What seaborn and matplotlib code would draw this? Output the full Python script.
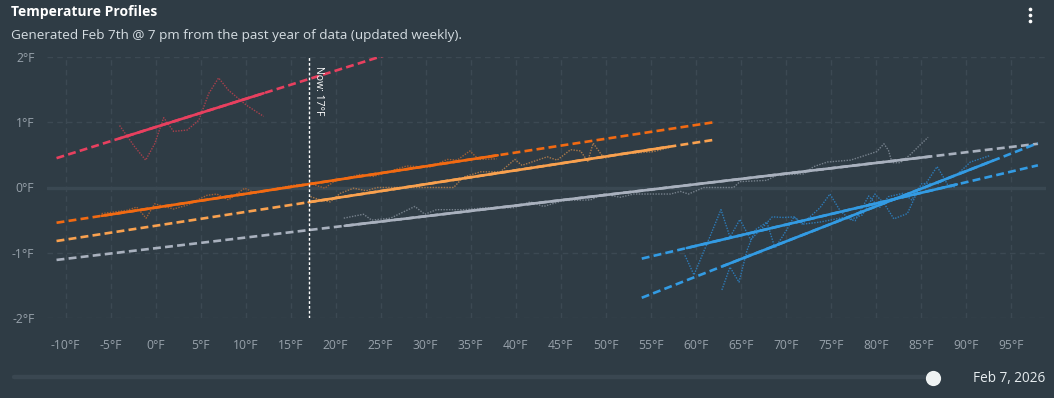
import matplotlib
matplotlib.use("Agg")
import matplotlib.pyplot as plt
import numpy as np
import seaborn as sns

# ====================== colours ======================
BG_COLOR     = "#2f3c45"
GRID_COLOR   = "#3c4953"
ZERO_COLOR   = "#3a4852"
TICK_COLOR   = "#98a2ab"
TEXT_LIGHT   = "#e6ecef"

# ====================== data ======================
# red profile
red_temps = [-4.0, -2.3, -1.1, -0.1, 0.9, 2.0, 3.5, 4.8, 5.9, 7.0, 8.1, 10.1, 12.0]
red_vals  = [0.95, 0.62, 0.42, 0.67, 1.07, 0.86, 0.88, 1.03, 1.44, 1.68, 1.49, 1.26, 1.09]
red_fit_x = [-11, 26]
red_fit_y = [0.45, 2.05]
red_solid = [-4, 12]

# dark orange profile
dorange_temps = [-6.0, -3.2, -2.1, -1.05, -0.1, 2.0, 3.5, 5.7, 6.8, 8.1, 9.9, 11.1,
                 13.1, 15.3, 17.2, 18.8, 19.8, 22.7, 24.2, 27.9, 30.4, 32.4, 33.5,
                 34.9, 35.9, 37.9]
dorange_vals  = [-0.40, -0.35, -0.30, -0.47, -0.25, -0.33, -0.27, -0.12, -0.10, -0.19,
                 -0.01, -0.09, -0.02, 0.035, 0.06, -0.01, 0.09, 0.20, 0.17, 0.33,
                 0.31, 0.43, 0.42, 0.56, 0.43, 0.44]
dorange_fit_x = [-11, 62]
dorange_fit_y = [-0.54, 1.00]
dorange_solid = [-6, 38]

# light orange profile
lorange_temps = [17.2, 18.3, 19.4, 20.5, 22.0, 23.4, 24.6, 28.0, 33.1, 34.2, 36.1, 38.3,
                 39.9, 40.7, 43.5, 44.6, 46.1, 47.2, 48.0, 48.6, 49.8, 51.6, 55.3, 57.0]
lorange_vals  = [-0.14, -0.19, -0.22, -0.09, -0.01, -0.05, 0.0, 0.0, 0.0, 0.16, 0.24, 0.24,
                 0.43, 0.34, 0.47, 0.42, 0.58, 0.56, 0.40, 0.68, 0.45, 0.51, 0.55, 0.61]
lorange_fit_x = [-11, 62]
lorange_fit_y = [-0.82, 0.73]
lorange_solid = [17, 57]

# grey profile
grey_temps = [20.9, 23.1, 24.0, 26.1, 28.8, 29.9, 31.2, 34.2, 36.8, 39.8, 41.6, 43.1,
              45.3, 48.3, 49.8, 51.6, 53.1, 57.2, 58.3, 59.2, 60.9, 64.2, 64.9, 67.9,
              69.0, 72.0, 73.1, 74.6, 77.2, 79.0, 80.1, 80.9, 81.4, 81.8, 82.7, 83.8,
              84.9, 85.8]
grey_vals  = [-0.47, -0.41, -0.50, -0.47, -0.29, -0.41, -0.34, -0.34, -0.31, -0.31, -0.22,
              -0.29, -0.20, -0.19, -0.10, -0.15, -0.10, -0.10, -0.06, -0.10, 0.0, 0.0,
              0.09, 0.11, 0.19, 0.21, 0.32, 0.39, 0.42, 0.50, 0.55, 0.67, 0.57, 0.38,
              0.38, 0.50, 0.65, 0.77]
grey_fit_x = [-11, 98]
grey_fit_y = [-1.11, 0.67]
grey_solid = [21, 86]

# blue profile (shallow)
blue1_temps = [58.8, 59.8, 61.4, 62.8, 63.8, 64.9, 66.1, 67.5, 68.5, 69.8, 70.9, 71.8,
               73.8, 74.9, 76.1, 77.2, 78.5, 79.9, 80.9, 82.0, 83.5, 84.6, 85.7, 86.8,
               87.5, 88.1, 88.8]
blue1_vals  = [-1.04, -1.34, -0.81, -0.34, -0.76, -0.49, -0.80, -0.60, -0.45, -0.46,
               -0.45, -0.56, -0.31, -0.10, -0.37, -0.49, -0.42, -0.10, -0.24, -0.48,
               -0.40, -0.07, 0.09, 0.32, 0.16, 0.01, 0.01]
blue1_fit_x = [54, 98]
blue1_fit_y = [-1.09, 0.34]
blue1_solid = [59, 89]

# blue profile (steep)
blue2_temps = [62.9, 63.8, 64.8, 65.7, 66.6, 67.9, 68.8, 70.1, 70.9, 72.0, 73.8, 76.4,
               77.7, 79.2, 80.4, 81.4, 83.0, 84.0, 85.1, 87.0, 87.8, 89.2, 90.5, 92.7]
blue2_vals  = [-1.57, -1.22, -1.45, -0.96, -0.65, -0.53, -0.93, -0.65, -0.45, -0.56,
               -0.53, -0.46, -0.51, -0.13, -0.31, -0.14, -0.09, -0.19, 0.06, 0.06,
               0.14, 0.22, 0.39, 0.49]
blue2_fit_x = [54, 98]
blue2_fit_y = [-1.69, 0.68]
blue2_solid = [63, 93]

NOW_TEMP = 17
x_ticks = list(range(-10, 100, 5))
y_ticks = [-2, -1, 0, 1, 2]

SERIES = [
    # temps, vals, fit_x, fit_y, solid, line colour, dotted colour
    (red_temps, red_vals, red_fit_x, red_fit_y, red_solid, "#e8405f", "#a8404c"),
    (dorange_temps, dorange_vals, dorange_fit_x, dorange_fit_y, dorange_solid, "#f26a12", "#a35f33"),
    (lorange_temps, lorange_vals, lorange_fit_x, lorange_fit_y, lorange_solid, "#f9a14f", "#a9784a"),
    (grey_temps, grey_vals, grey_fit_x, grey_fit_y, grey_solid, "#a9b1be", "#76818c"),
    (blue1_temps, blue1_vals, blue1_fit_x, blue1_fit_y, blue1_solid, "#339be3", "#2d7bb8"),
    (blue2_temps, blue2_vals, blue2_fit_x, blue2_fit_y, blue2_solid, "#339be3", "#2d7bb8"),
]

# ====================== style ======================
sns.set_style("dark", {
    "axes.facecolor": BG_COLOR,
    "figure.facecolor": BG_COLOR,
    "axes.grid": False,
})
plt.rcParams["font.family"] = ["Open Sans", "DejaVu Sans"]

W, H = 1054, 398
fig = plt.figure(figsize=(W / 100, H / 100), dpi=100)
fig.patch.set_facecolor(BG_COLOR)

ax = fig.add_axes([47 / W, 1 - 318 / H, (1046 - 47) / W, (318 - 57) / H])
ax.set_facecolor(BG_COLOR)
ax.set_xlim(-12.06, 98.9)
ax.set_ylim(-2, 2)

# grid
for xt in x_ticks:
    ax.axvline(xt, color=GRID_COLOR, lw=1, ls=(0, (4, 3)), zorder=0)
for yt in y_ticks:
    ax.axhline(yt, color=GRID_COLOR, lw=1, ls=(0, (4, 3)), zorder=0)
ax.axhline(0, color=ZERO_COLOR, lw=2.4, zorder=0.5)

for temps, vals, fx, fy, solid, col, dcol in SERIES:
    # the daily readings, dotted
    sns.lineplot(x=temps, y=vals, ax=ax, color=dcol, lw=1.0, linestyle=(0, (1, 1)),
                 estimator=None, sort=False, zorder=2)
    # trend line: dashed over full range, solid over the data range
    sns.lineplot(x=fx, y=fy, ax=ax, color=col, lw=1.9, linestyle=(0, (3, 1.6)),
                 estimator=None, sort=False, zorder=3)
    slope = (fy[1] - fy[0]) / (fx[1] - fx[0])
    sy = [fy[0] + (s - fx[0]) * slope for s in solid]
    sns.lineplot(x=solid, y=sy, ax=ax, color=col, lw=1.9, estimator=None,
                 sort=False, zorder=4)

# "now" marker
ax.axvline(NOW_TEMP, color="white", lw=1, ls=(0, (2, 1.5)), zorder=5)
ax.text(NOW_TEMP + 0.45, 1.86, f"Now: {NOW_TEMP}°F", rotation=-90, ha="left", va="top",
        color="white", fontsize=7.5, zorder=6)

ax.set_xticks(x_ticks)
ax.set_xticklabels([f"{t}°F" for t in x_ticks])
ax.set_yticks(y_ticks)
ax.set_yticklabels([f"{t}°F" for t in y_ticks])
ax.tick_params(axis="both", length=0, colors=TICK_COLOR, labelsize=8.7)
ax.tick_params(axis="x", pad=15)
ax.tick_params(axis="y", pad=9)
for sp in ax.spines.values():
    sp.set_visible(False)
ax.set_xlabel("")
ax.set_ylabel("")

# ====================== header / footer (pixel coordinates) ======================
ov = fig.add_axes([0, 0, 1, 1], zorder=10)
ov.set_xlim(0, W)
ov.set_ylim(H, 0)
ov.axis("off")
ov.patch.set_alpha(0)

ov.text(11, 12, "Temperature Profiles", color="white", fontsize=10, fontweight="bold",
        ha="left", va="center")
ov.text(11, 35, "Generated Feb 7th @ 7 pm from the past year of data (updated weekly).",
        color="#d5dde2", fontsize=9.7, ha="left", va="center")
ov.scatter([1030, 1030, 1030], [9, 15, 21], s=7, color="white", linewidths=0)

# date slider
ov.plot([14, 935], [377, 377], color="#3a4751", lw=3.2, solid_capstyle="round")
ov.scatter([933], [378], s=120, color="#eef2f2", linewidths=0, zorder=3)
ov.text(973, 378, "Feb 7, 2026", color=TEXT_LIGHT, fontsize=9.8, ha="left", va="center")

fig.savefig("out.png", dpi=100, facecolor=BG_COLOR)
